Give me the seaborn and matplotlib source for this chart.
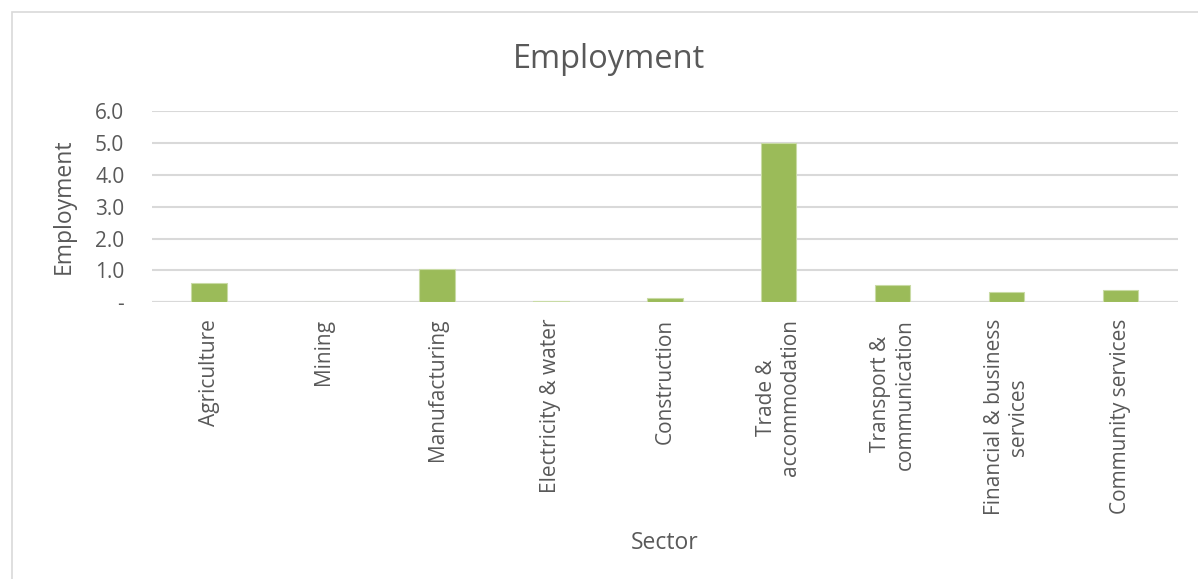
import matplotlib
matplotlib.use("Agg")
import matplotlib.pyplot as plt
import seaborn as sns
import pandas as pd
from matplotlib.patches import Rectangle

sectors = ["Agriculture", "Mining", "Manufacturing", "Electricity & water",
           "Construction", "Trade &\naccommodation", "Transport &\ncommunication",
           "Financial & business\nservices", "Community services"]
employment = [0.60, 0.0, 1.04, 0.03, 0.13, 5.0, 0.53, 0.31, 0.37]
y_ticks = [0, 1, 2, 3, 4, 5, 6]
y_tick_labels = ["-", "1.0", "2.0", "3.0", "4.0", "5.0", "6.0"]

sns.set_theme(style="white")
plt.rcParams['font.family'] = ['Open Sans', 'DejaVu Sans']
text_color = "#595959"

df = pd.DataFrame({"Sector": sectors, "Employment": employment})

fig = plt.figure(figsize=(11.98, 5.79), dpi=100)
ax = fig.add_axes([0.127, 0.478, 0.856, 0.330])

sns.barplot(data=df, x="Sector", y="Employment", color="#9BBB59", width=0.31,
            saturation=1, ax=ax, edgecolor="#C9DBA5", linewidth=0.8, zorder=3)

ax.set_ylim(0, 6)
ax.set_yticks(y_ticks)
ax.set_yticklabels(y_tick_labels)
ax.yaxis.grid(True, color="#D9D9D9", linewidth=1.5, zorder=0)
ax.set_axisbelow(True)
for s in ax.spines.values():
    s.set_visible(False)
ax.axhline(0, color="#D9D9D9", linewidth=1.5, zorder=1)

ax.tick_params(axis='y', labelsize=15, colors=text_color, length=0, pad=20)
ax.tick_params(axis='x', labelsize=15, colors=text_color, length=0, pad=12)
for lbl in ax.get_xticklabels():
    lbl.set_rotation(90)
    lbl.set_ha('center')
    lbl.set_va('top')
    lbl.set_multialignment('center')

ax.set_xlabel("Sector", fontsize=16.5, color=text_color, labelpad=11)
ax.set_ylabel("Employment", fontsize=16.5, color=text_color, labelpad=14)

fig.text(0.508, 0.897, "Employment", ha='center', va='center', fontsize=23.5, color=text_color)

fig.patches.append(Rectangle((12/1198, -0.01), 1.0, 1 - 12/579 + 0.01, transform=fig.transFigure,
                             fill=False, edgecolor="#D9D9D9", linewidth=1.2))

fig.savefig("out.png", dpi=100)
